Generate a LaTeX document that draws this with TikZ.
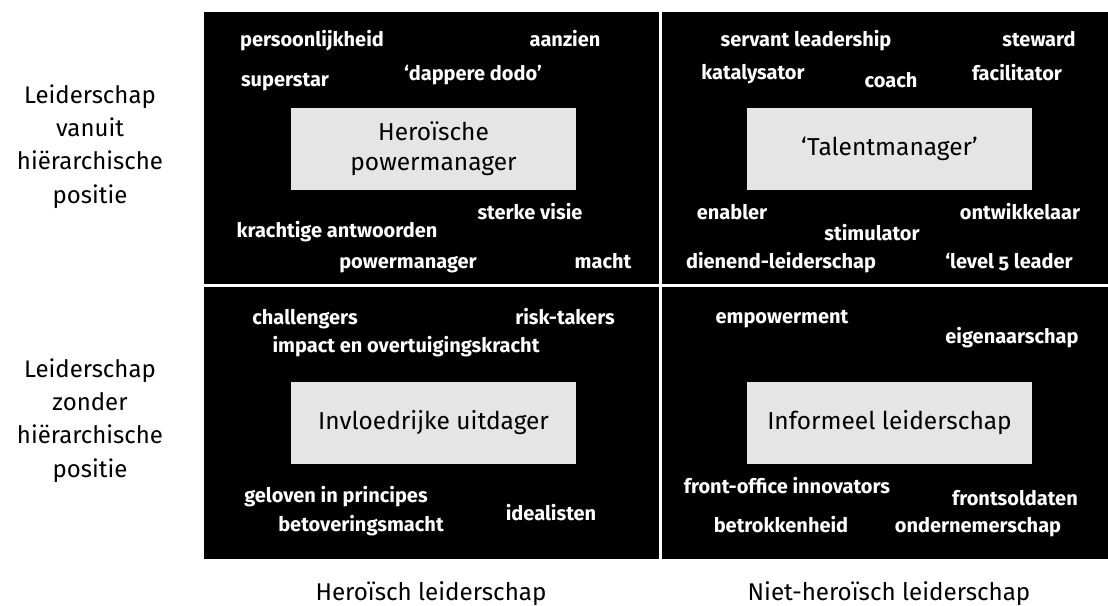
\documentclass[tikz,border=0pt]{standalone}
\usepackage{fontspec}
\setmainfont{Fira Sans}
\newfontfamily\kwfam{Fira Sans}[Numbers=OldStyle]
\definecolor{boxgrey}{HTML}{E5E5E5}
\tikzset{
  kw/.style={text=white, font=\kwfam\bfseries\fontsize{20}{24}\selectfont, anchor=base, inner sep=0pt},
  big/.style={text=black, font=\fontsize{24}{33.3}\selectfont, align=center, inner sep=0pt},
  greybox/.style={fill=boxgrey, minimum width=285pt, minimum height=82pt, inner sep=0pt, align=center,
    font=\fontsize{24.5}{30}\selectfont},
  quad/.style={fill=black, inner sep=0pt, anchor=north west},
}
\begin{document}
\begin{tikzpicture}[x=1pt,y=-1pt]
\useasboundingbox (0,0) rectangle (1108,605);
% quadrants
\node[quad, minimum width=455pt, minimum height=272pt] (qtl) at (204,12) {};
\node[quad, minimum width=447pt, minimum height=272pt] (qtr) at (661.5,12) {};
\node[quad, minimum width=455pt, minimum height=272.5pt] (qbl) at (204,286.5) {};
\node[quad, minimum width=447pt, minimum height=272.5pt] (qbr) at (661.5,286.5) {};
% grey boxes
\node[greybox] (btl) at (433.5,148.5) {Hero\"ische\\powermanager};
\node[greybox] (btr) at (889.5,148.5) {‘Talentmanager’};
\node[greybox] (bbl) at (433.5,422.5) {Invloedrijke uitdager};
\node[greybox] (bbr) at (889.5,422.5) {Informeel leiderschap};
% top-left keywords
\node[kw] (k1) at (312,46) {persoonlijkheid};
\node[kw] (k2) at (565,46) {aanzien};
\node[kw] (k3) at (285,86) {superstar};
\node[kw] (k4) at (473,80) {‘dappere dodo’};
\node[kw] (k5) at (337,237) {krachtige antwoorden};
\node[kw] (k6) at (530,219) {sterke visie};
\node[kw] (k7) at (408,268) {powermanager};
\node[kw] (k8) at (603,268) {macht};
% top-right keywords
\node[kw] (k9) at (806,46) {servant leadership};
\node[kw] (k10) at (1039,46) {steward};
\node[kw] (k11) at (753,79) {katalysator};
\node[kw] (k12) at (891,87) {coach};
\node[kw] (k13) at (1017,80) {facilitator};
\node[kw] (k14) at (732,219) {enabler};
\node[kw] (k15) at (1020,219) {ontwikkelaar};
\node[kw] (k16) at (872,240) {stimulator};
\node[kw] (k17) at (781,268) {dienend-leiderschap};
\node[kw] (k18) at (1009,268) {‘level 5 leader};
% bottom-left keywords
\node[kw] (k19) at (305,324) {challengers};
\node[kw] (k20) at (565,324) {risk-takers};
\node[kw] (k21) at (406,352) {impact en overtuigingskracht};
\node[kw] (k22) at (336,502) {geloven in principes};
\node[kw] (k23) at (361,531) {betoveringsmacht};
\node[kw] (k24) at (551,520) {idealisten};
% bottom-right keywords
\node[kw] (k25) at (782,323) {empowerment};
\node[kw] (k26) at (1012,343) {eigenaarschap};
\node[kw] (k27) at (787,493) {front-office innovators};
\node[kw] (k28) at (1015,505) {frontsoldaten};
\node[kw] (k29) at (781,532) {betrokkenheid};
\node[kw] (k30) at (978,532) {ondernemerschap};
% axis labels
\node[big, anchor=base, font=\fontsize{24.2}{30}\selectfont] (ax1) at (431,600) {Hero\"isch leiderschap};
\node[big, anchor=base, font=\fontsize{24.2}{30}\selectfont] (ax2) at (889,600) {Niet-hero\"isch leiderschap};
\node[big, anchor=base] (ay1) at (90,203) {Leiderschap\\vanuit\\hi\"erarchische\\positie};
\node[big, anchor=base] (ay2) at (90,477) {Leiderschap\\zonder\\hi\"erarchische\\positie};
\end{tikzpicture}
\end{document}
